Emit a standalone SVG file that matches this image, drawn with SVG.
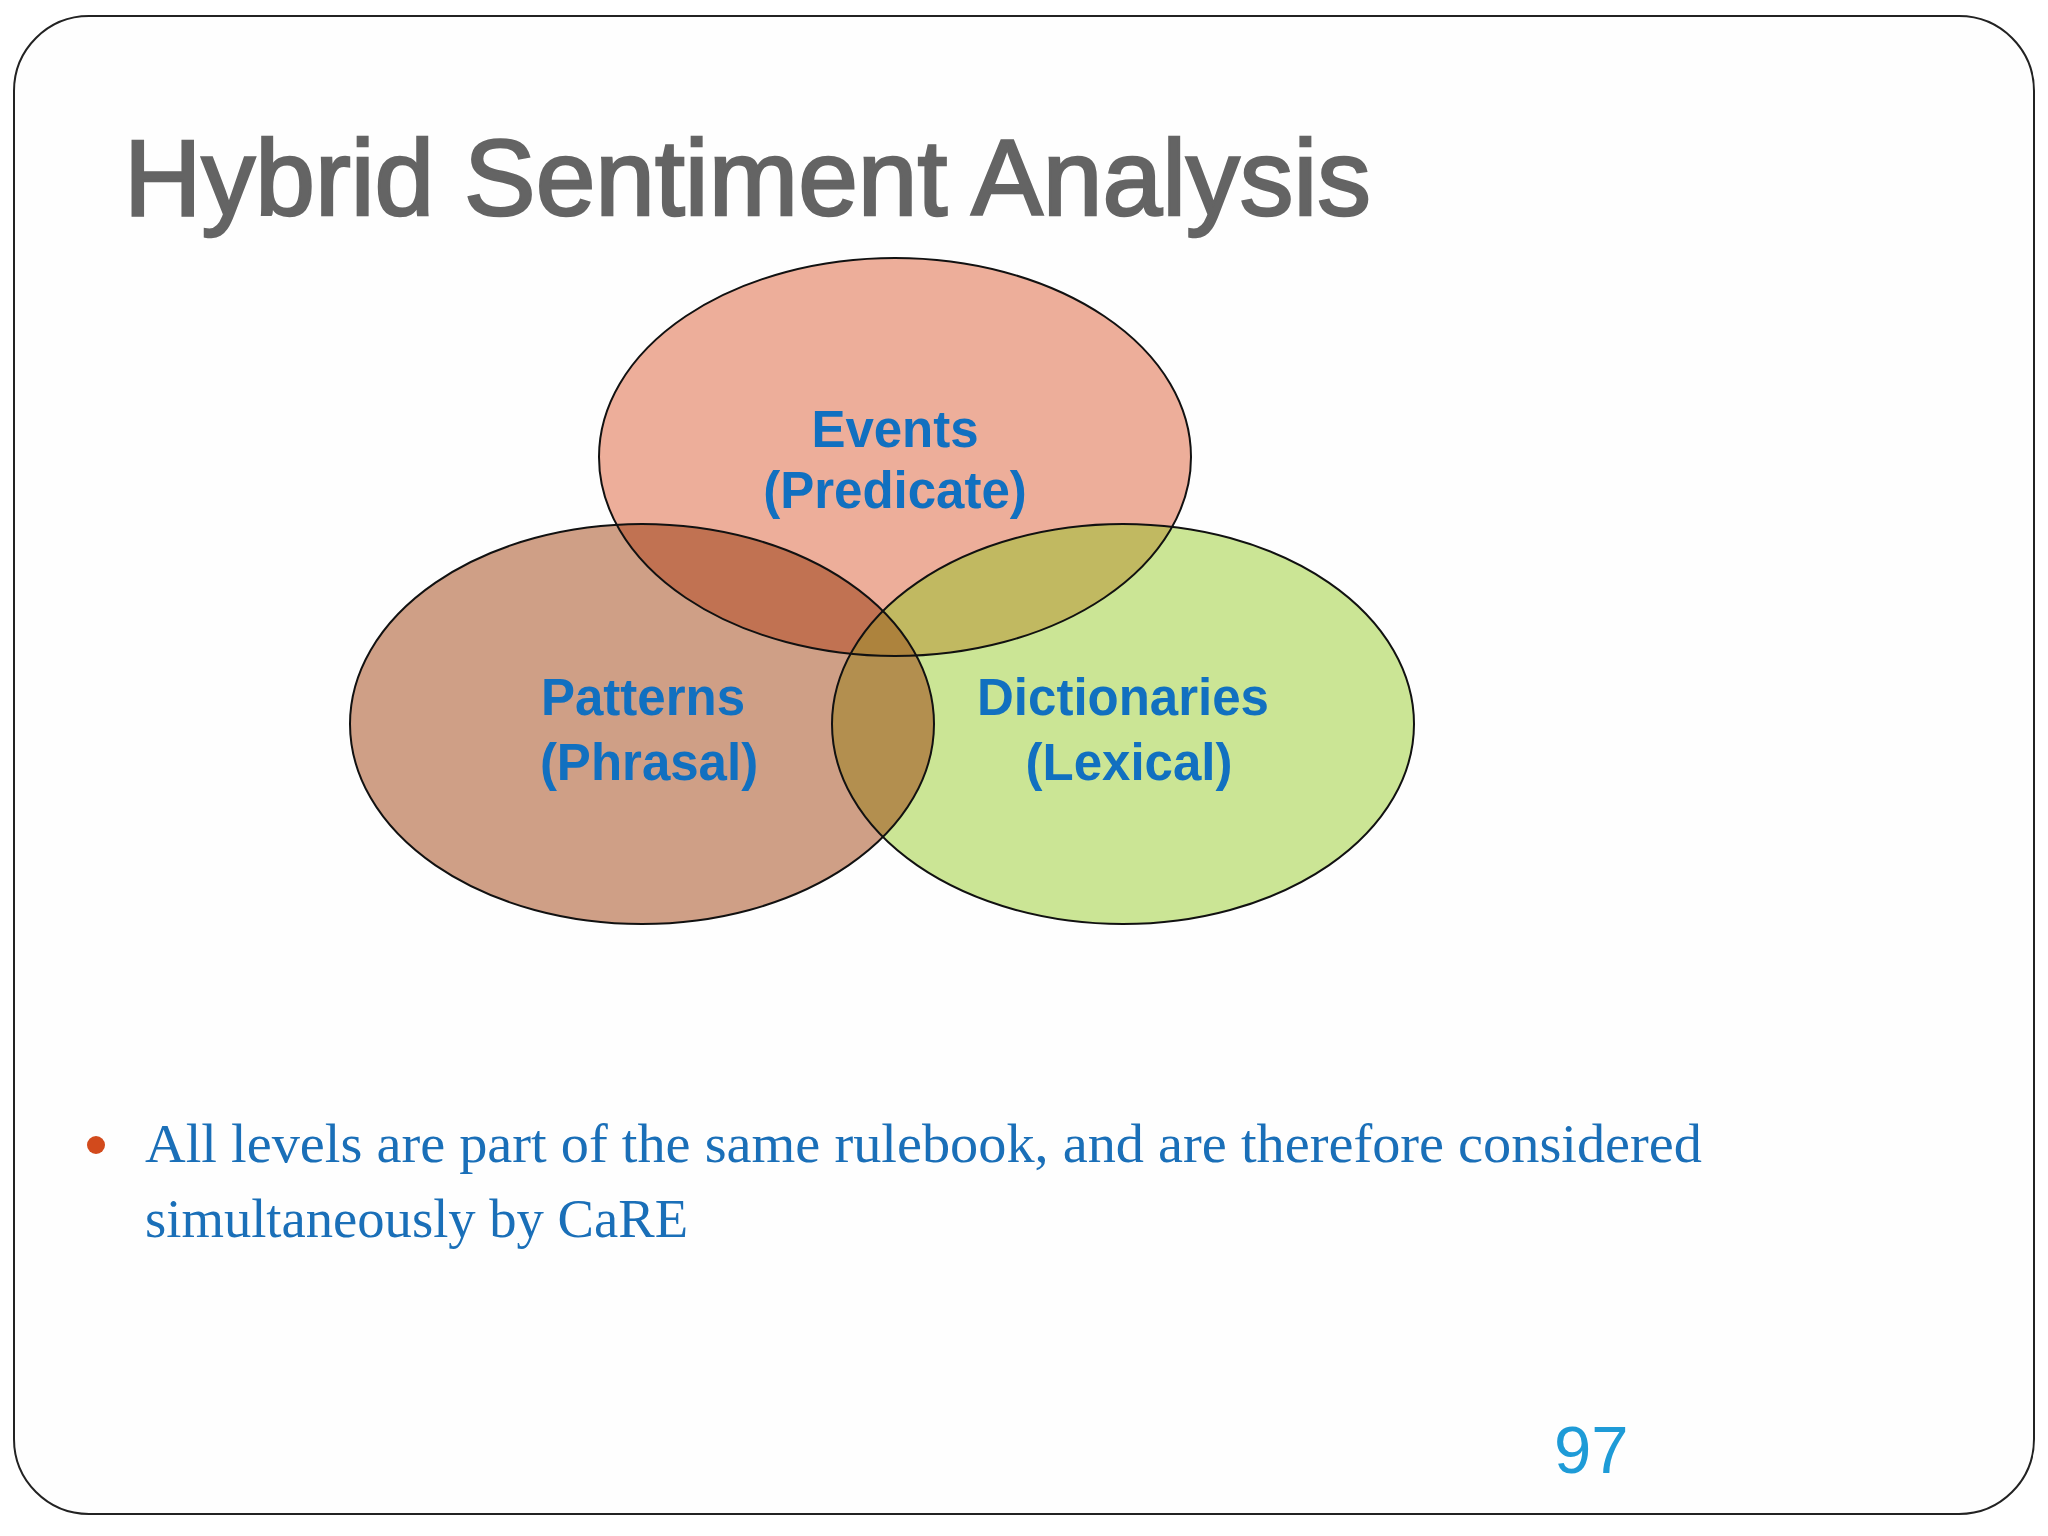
<svg xmlns="http://www.w3.org/2000/svg" width="2048" height="1536" viewBox="0 0 2048 1536">
<style>
.lbl{font-family:"Liberation Sans",Arial,sans-serif;font-weight:bold;font-size:51px;fill:#1170C0;text-anchor:middle}
.edge{fill:none;stroke:#111;stroke-width:2}
.body{font-family:"Liberation Serif","Times New Roman",serif;font-size:54px;fill:#1A6FB8}
</style>
<defs>
<clipPath id="cL"><ellipse cx="642" cy="724" rx="292" ry="200"/></clipPath>
<clipPath id="cR"><ellipse cx="1123" cy="724" rx="291" ry="200"/></clipPath>
</defs>
<rect x="0" y="0" width="2048" height="1536" fill="#fff"/>
<rect id="frame" x="14" y="16" width="2020" height="1498" rx="75" ry="75" fill="#fefefe" stroke="#222" stroke-width="2"/>
<text id="title" x="124" y="215" font-family="'Liberation Sans',Arial,sans-serif" font-size="107" fill="#646464" stroke="#646464" stroke-width="2.5" textLength="1247" lengthAdjust="spacingAndGlyphs">Hybrid Sentiment Analysis</text>
<g id="fills">
<ellipse cx="895" cy="457" rx="296" ry="199" fill="#EDAE9A"/>
<ellipse cx="642" cy="724" rx="292" ry="200" fill="#CF9F86"/>
<ellipse cx="1123" cy="724" rx="291" ry="200" fill="#CBE595"/>
<ellipse cx="895" cy="457" rx="296" ry="199" fill="#C17252" clip-path="url(#cL)"/>
<ellipse cx="895" cy="457" rx="296" ry="199" fill="#C1B961" clip-path="url(#cR)"/>
<ellipse cx="642" cy="724" rx="292" ry="200" fill="#B38F4F" clip-path="url(#cR)"/>
<g clip-path="url(#cR)"><ellipse cx="895" cy="457" rx="296" ry="199" fill="#AD833D" clip-path="url(#cL)"/></g>
</g>
<g id="events">
<ellipse class="edge" cx="895" cy="457" rx="296" ry="199"/>
<text class="lbl" x="895" y="447">Events</text>
<text class="lbl" x="895" y="508">(Predicate)</text>
</g>
<g id="patterns">
<ellipse class="edge" cx="642" cy="724" rx="292" ry="200"/>
<text class="lbl" x="643" y="715">Patterns</text>
<text class="lbl" x="649" y="780">(Phrasal)</text>
</g>
<g id="dictionaries">
<ellipse class="edge" cx="1123" cy="724" rx="291" ry="200"/>
<text class="lbl" x="1123" y="715">Dictionaries</text>
<text class="lbl" x="1129" y="780">(Lexical)</text>
</g>
<g id="bullet">
<circle cx="96" cy="1145" r="9" fill="#D24A1C"/>
<text class="body" x="145" y="1162" textLength="1557" lengthAdjust="spacingAndGlyphs">All levels are part of the same rulebook, and are therefore considered</text>
<text class="body" x="145" y="1237" textLength="543" lengthAdjust="spacingAndGlyphs">simultaneously by CaRE</text>
</g>
<text id="page" x="1554" y="1473" font-family="'Liberation Sans',Arial,sans-serif" font-size="67" fill="#1E9BD7">97</text>
</svg>
